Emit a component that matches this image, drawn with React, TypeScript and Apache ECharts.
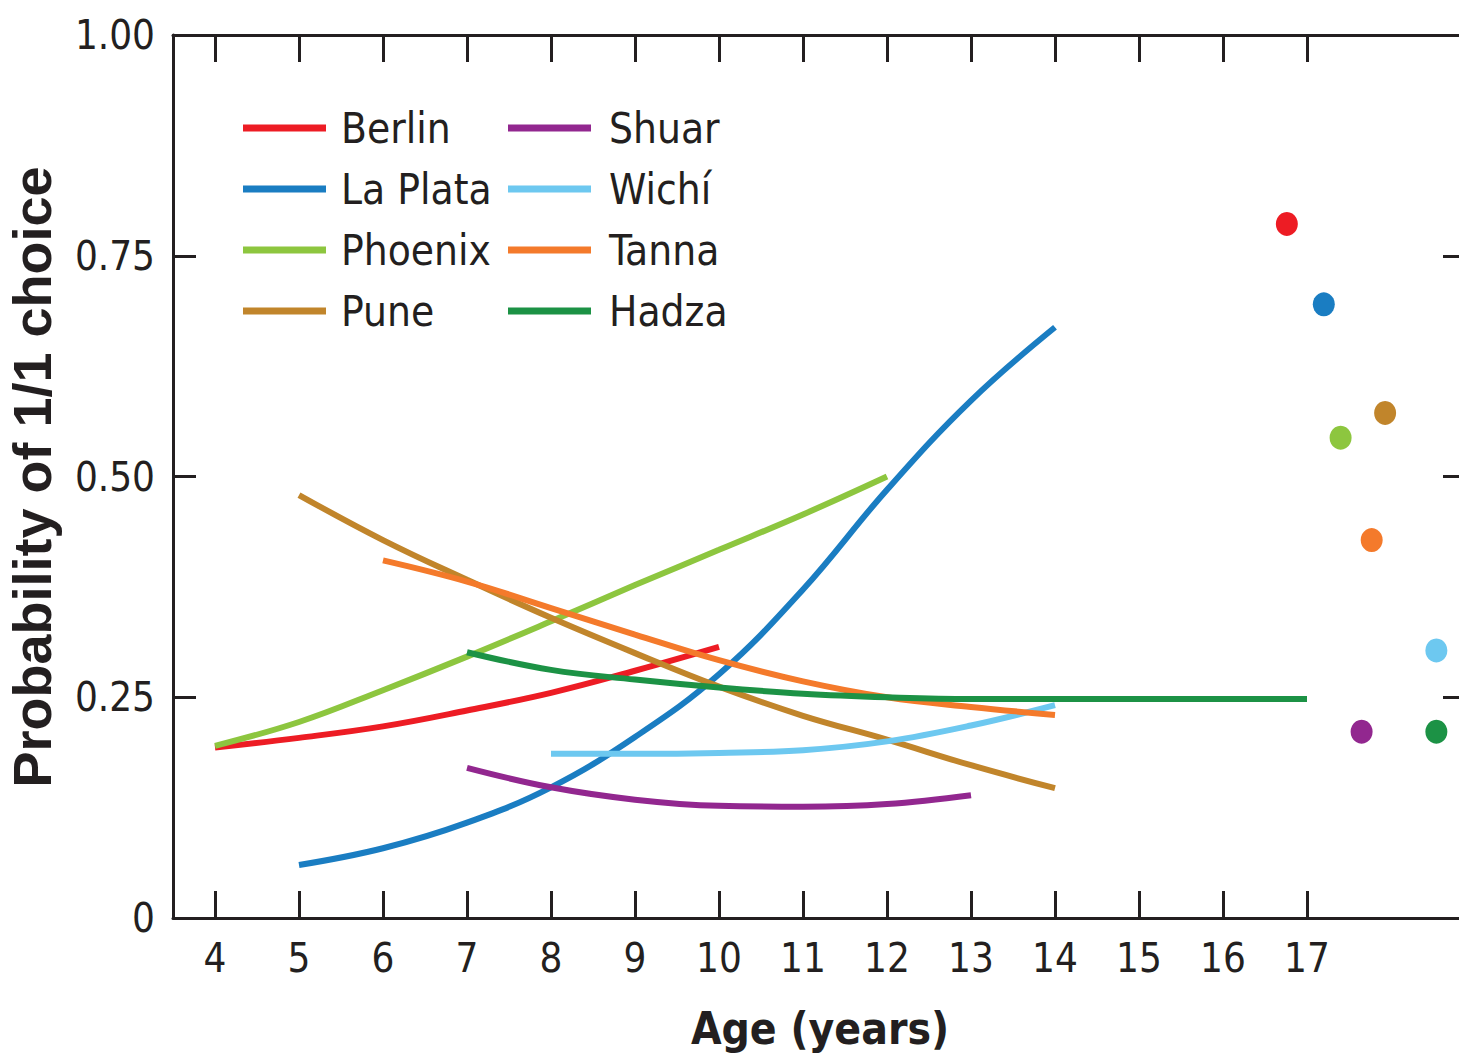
import React, { useEffect, useRef } from "react";
import * as echarts from "echarts";

const xTickValues = [4, 5, 6, 7, 8, 9, 10, 11, 12, 13, 14, 15, 16, 17];
const yTickLabels = ["0", "0.25", "0.50", "0.75", "1.00"];

const societies = ["Berlin", "La Plata", "Phoenix", "Pune", "Shuar", "Wichí", "Tanna", "Hadza"];
const colors = ["#ED1C24", "#1A7DC2", "#8DC63F", "#C1852B", "#92278F", "#6DC8F0", "#F47A2B", "#1C9245"];

// curves: [age, probability]
const berlin = [[4, 0.193], [5, 0.204], [6, 0.217], [7, 0.235], [8, 0.255], [9, 0.28], [10, 0.307]];
const laPlata = [[5, 0.06], [6, 0.079], [7, 0.108], [8, 0.148], [9, 0.205], [10, 0.276], [11, 0.372], [12, 0.485], [13, 0.586], [14, 0.669]];
const phoenix = [[4, 0.195], [5, 0.222], [6, 0.258], [7, 0.296], [8, 0.336], [9, 0.377], [10, 0.417], [11, 0.457], [12, 0.5]];
const pune = [[5, 0.479], [6, 0.428], [7, 0.383], [8, 0.34], [9, 0.3], [10, 0.262], [11, 0.229], [12, 0.202], [13, 0.173], [14, 0.147]];
const shuar = [[7, 0.17], [8, 0.148], [9, 0.134], [10, 0.127], [11, 0.126], [12, 0.129], [13, 0.139]];
const wichi = [[8, 0.186], [9, 0.186], [10, 0.187], [11, 0.19], [12, 0.2], [13, 0.218], [14, 0.241]];
const tanna = [[6, 0.405], [7, 0.381], [8, 0.351], [9, 0.321], [10, 0.292], [11, 0.268], [12, 0.25], [13, 0.239], [14, 0.23]];
const hadza = [[7, 0.301], [8, 0.281], [9, 0.27], [10, 0.261], [11, 0.254], [12, 0.25], [13, 0.248], [14, 0.248], [15, 0.248], [16, 0.248], [17, 0.248]];
const curves = [berlin, laPlata, phoenix, pune, shuar, wichi, tanna, hadza];

// adult points (jittered x positions right of age 17)
const adultX = [16.76, 17.2, 17.4, 17.93, 17.65, 18.54, 17.77, 18.54];
const adultY = [0.786, 0.695, 0.544, 0.572, 0.211, 0.303, 0.428, 0.211];

const NARROW = "'Liberation Sans Narrow', 'DejaVu Sans Condensed', 'Noto Sans', sans-serif";
const TEXT = "#231F20";

export default function App() {
  const ref = useRef<HTMLDivElement>(null);
  useEffect(() => {
    if (!ref.current) return;
    const chart = echarts.init(ref.current, null, { renderer: "svg" });
    const gridLeft = 173;
    const gridTop = 35;
    const gridW = 1286;
    const gridH = 883;
    const xMin = 3.5;
    const xMax = 3.5 + gridW / 84;

    const axisLine = { show: true, onZero: false, lineStyle: { color: "#231F20", width: 3 } };
    const tickStyle = { color: "#231F20", width: 3 };
    const lineSeries = societies.map((name, i) => ({
      name,
      type: "line",
      data: curves[i],
      smooth: 0.4,
      showSymbol: false,
      symbol: "none",
      lineStyle: { color: colors[i], width: 6 },
      itemStyle: { color: colors[i] },
      z: 3,
    }));
    const dots = adultX.map((x, i) => ({ value: [x, adultY[i]], itemStyle: { color: colors[i], opacity: 1 } }));

    const legendText = { fontFamily: NARROW, fontSize: 42, color: TEXT, lineHeight: 46 };
    const legendCommon = {
      orient: "vertical",
      icon: "rect",
      itemWidth: 83,
      itemHeight: 7,
      itemGap: 15,
      padding: 0,
      selectedMode: false,
    };

    chart.setOption({
      animation: false,
      backgroundColor: "#ffffff",
      grid: { left: gridLeft, top: gridTop, width: gridW, height: gridH, containLabel: false },
      legend: [
        { ...legendCommon, left: 243, top: 105, data: societies.slice(0, 4), textStyle: { ...legendText, padding: [0, 0, 0, 10] } },
        { ...legendCommon, left: 508, top: 105, data: societies.slice(4), textStyle: { ...legendText, padding: [0, 0, 0, 13] } },
      ],
      xAxis: [
        {
          type: "value",
          position: "bottom",
          min: xMin,
          max: xMax,
          axisLine,
          splitLine: { show: false },
          axisTick: { show: true, inside: true, length: 27, customValues: xTickValues, lineStyle: tickStyle },
          axisLabel: { show: true, customValues: xTickValues, margin: 20, fontFamily: NARROW, fontSize: 40, color: TEXT },
        },
        {
          type: "value",
          position: "top",
          min: xMin,
          max: xMax,
          axisLine,
          splitLine: { show: false },
          axisTick: { show: true, inside: true, length: 27, customValues: xTickValues, lineStyle: tickStyle },
          axisLabel: { show: false },
        },
      ],
      yAxis: [
        {
          type: "value",
          position: "left",
          min: 0,
          max: 1,
          interval: 0.25,
          axisLine,
          splitLine: { show: false },
          axisTick: { show: true, inside: true, length: 23, lineStyle: tickStyle },
          axisLabel: {
            margin: 18,
            fontFamily: NARROW,
            fontSize: 40,
            color: TEXT,
            formatter: (v: number) => yTickLabels[Math.round(v / 0.25)],
          },
        },
        {
          type: "value",
          position: "right",
          min: 0,
          max: 1,
          interval: 0.25,
          axisLine: { show: false, onZero: false },
          splitLine: { show: false },
          axisTick: { show: true, inside: true, length: 16, lineStyle: tickStyle },
          axisLabel: { show: false },
        },
      ],
      series: [
        ...lineSeries,
        {
          name: "adults",
          type: "scatter",
          data: dots,
          symbol: "circle",
          symbolSize: [22, 24],
          itemStyle: { opacity: 1 },
          z: 4,
        },
      ],
      graphic: [
        {
          type: "text",
          x: 32,
          y: 477,
          rotation: Math.PI / 2,
          style: {
            text: "Probability of 1/1 choice",
            fontFamily: "'Liberation Sans', Arial, sans-serif",
            fontWeight: "bold",
            fontSize: 54,
            fill: TEXT,
            textAlign: "center",
            textVerticalAlign: "middle",
          },
        },
        {
          type: "text",
          x: 820,
          y: 1028,
          style: {
            text: "Age (years)",
            fontFamily: NARROW,
            fontWeight: "bold",
            fontSize: 44,
            fill: TEXT,
            textAlign: "center",
            textVerticalAlign: "middle",
          },
        },
      ],
    });
    return () => chart.dispose();
  }, []);
  return <div ref={ref} style={{ position: "fixed", left: 0, top: 0, width: 1459, height: 1058 }} />;
}
